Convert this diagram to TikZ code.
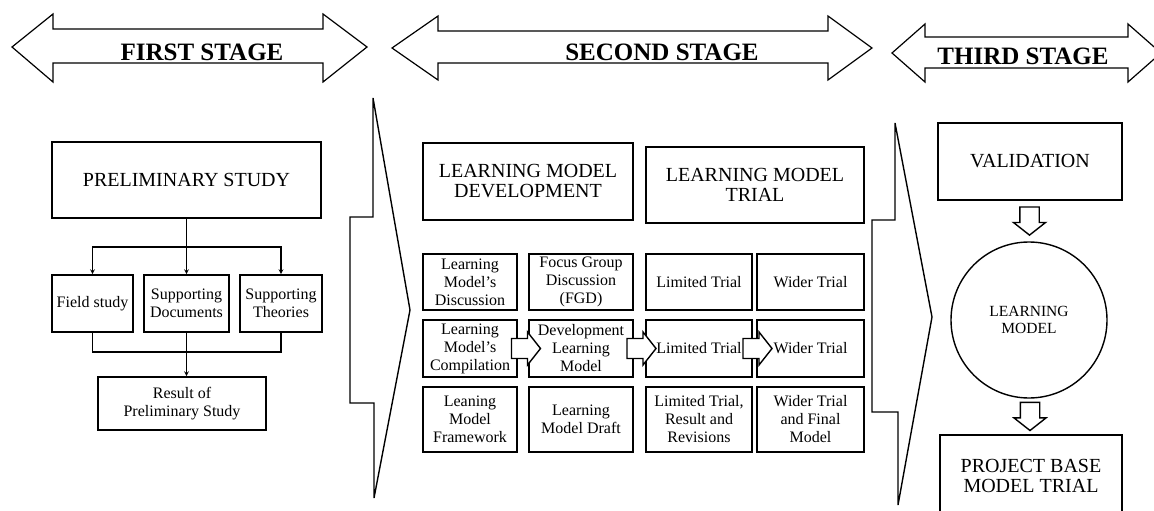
\documentclass[tikz,border=0pt]{standalone}
\usepackage{fontspec}
\setmainfont{Liberation Serif}
\usetikzlibrary{arrows,calc}
\tikzstyle{banner} = [line width=1.2pt, line join=miter]
\tikzstyle{divider} = [line width=1.4pt, line join=miter]
\tikzstyle{stagetext} = [font=\fontsize{25}{28}\selectfont\bfseries, inner sep=0pt, anchor=base]
\tikzstyle{bigbox} = [rectangle, draw=black, line width=1.6pt, align=center, inner sep=0pt, font=\fontsize{20}{20}\selectfont]
\tikzstyle{smallbox} = [rectangle, draw=black, line width=1.6pt, align=center, inner sep=0pt, font=\fontsize{16}{18}\selectfont]
\tikzstyle{conn} = [line width=1.2pt,->,>=stealth]
\tikzstyle{wire} = [line width=1.2pt]
% hollow block arrow, centred on its position
\tikzset{fatarrow/.pic={
  \draw[line width=1.4pt, fill=white, line join=miter] (-14.5,-10) -- (1.5,-10) -- (1.5,-16.5) -- (14.5,0) -- (1.5,16.5) -- (1.5,10) -- (-14.5,10) -- cycle;
}}

\begin{document}
\begin{tikzpicture}[x=1pt,y=-1pt]
\useasboundingbox (0,0) rectangle (1154,511);
\clip (0,0) rectangle (1154,511);
% stage banners
\draw[banner] (12,47) -- (53,14) -- (53,29) -- (323,29) -- (323,14) -- (367,47) -- (323,82) -- (323,63) -- (53,63) -- (53,82) -- cycle;
\node[stagetext] (s1) at (202,61) {FIRST STAGE};
\draw[banner] (392,48) -- (438,16) -- (438,31) -- (828,31) -- (828,16) -- (872,48) -- (828,80) -- (828,63) -- (438,63) -- (438,80) -- cycle;
\node[stagetext] (s2) at (662,61) {SECOND STAGE};
\draw[banner] (892,53) -- (925,24) -- (925,37) -- (1128,37) -- (1128,24) -- (1161,53) -- (1128,82) -- (1128,68) -- (925,68) -- (925,82) -- cycle;
\node[stagetext] (s3) at (1023,65) {THIRD STAGE};
% dividers between stages
\draw[divider] (373,98) -- (410,310) -- (374,498) -- (374,403) -- (350,403) -- (350,217) -- (373,217) -- cycle;
\draw[divider] (895,123) -- (932,317) -- (898,505) -- (898,412) -- (872,412) -- (872,220) -- (895,220) -- cycle;

% first stage
\node[bigbox, minimum width=269pt, minimum height=76pt] (prelim) at (186.5,180) {PRELIMINARY STUDY};
\node[smallbox, minimum width=81pt, minimum height=57pt] (field) at (92.5,303.5) {Field study};
\node[smallbox, minimum width=85pt, minimum height=57pt] (sdoc) at (186.5,303.5) {Supporting\\Documents};
\node[smallbox, minimum width=82pt, minimum height=57pt] (stheo) at (281,303.5) {Supporting\\Theories};
\node[smallbox, minimum width=168pt, minimum height=53pt] (result) at (182,403.5) {Result of\\Preliminary Study};
\coordinate (split) at (186.5,247);
\coordinate (merge) at (186.5,352);
\draw[conn] (prelim.south) -- (sdoc.north);
\draw[conn] (split) -| (field.north);
\draw[conn] (split) -| (stheo.north);
\draw[wire] (field.south) |- (merge) -| (stheo.south);
\draw[conn] (sdoc.south) -- (sdoc.south |- result.north);

% second stage
\node[bigbox, minimum width=210pt, minimum height=77pt] (devhead) at (528,181.5) {LEARNING MODEL\\DEVELOPMENT};
\node[bigbox, minimum width=218pt, minimum height=76pt] (trialhead) at (755,185) {LEARNING MODEL\\TRIAL};
\node[smallbox, minimum width=94pt, minimum height=56pt] (d1) at (470,282) {Learning\\Model's\\Discussion};
\node[smallbox, minimum width=104pt, minimum height=56pt] (d2) at (581,282) {Focus Group\\Discussion\\(FGD)};
\node[smallbox, minimum width=106pt, minimum height=56pt] (d3) at (699,282) {Limited Trial};
\node[smallbox, minimum width=107pt, minimum height=56pt] (d4) at (810.5,282) {Wider Trial};
\node[smallbox, minimum width=94pt, minimum height=57pt] (m1) at (470,348.5) {Learning\\Model's\\Compilation};
\node[smallbox, minimum width=104pt, minimum height=57pt] (m2) at (581,348.5) {Development\\Learning\\Model};
\node[smallbox, minimum width=106pt, minimum height=57pt] (m3) at (699,348.5) {Limited Trial};
\node[smallbox, minimum width=107pt, minimum height=57pt] (m4) at (810.5,348.5) {Wider Trial};
\node[smallbox, minimum width=94pt, minimum height=65pt] (f1) at (470,419.5) {Leaning\\Model\\Framework};
\node[smallbox, minimum width=104pt, minimum height=65pt] (f2) at (581,419.5) {Learning\\Model Draft};
\node[smallbox, minimum width=106pt, minimum height=65pt] (f3) at (699,419.5) {Limited Trial,\\Result and\\Revisions};
\node[smallbox, minimum width=107pt, minimum height=65pt] (f4) at (810.5,419.5) {Wider Trial\\and Final\\Model};
\pic[xshift=3pt] at ($(m1.east)!0.5!(m2.west)$) {fatarrow};
\pic[xshift=2pt] at ($(m2.east)!0.5!(m3.west)$) {fatarrow};
\pic[xshift=3pt] at ($(m3.east)!0.5!(m4.west)$) {fatarrow};

% third stage
\node[bigbox, minimum width=184pt, minimum height=77pt] (valid) at (1030,161.5) {VALIDATION};
\node[circle, draw=black, line width=1.4pt, minimum size=156pt, inner sep=0pt, align=center, font=\fontsize{15.5}{17}\selectfont] (lm) at (1029,320) {LEARNING\\MODEL};
\node[bigbox, minimum width=182pt, minimum height=82pt] (pbm) at (1031,476) {PROJECT BASE\\MODEL TRIAL};
\pic[rotate=-90, scale=0.97] at ($(valid.south)!0.5!(lm.north)$) {fatarrow};
\pic[rotate=-90, scale=0.97] at ($(lm.south)!0.5!(pbm.north)$) {fatarrow};
\end{tikzpicture}
\end{document}
